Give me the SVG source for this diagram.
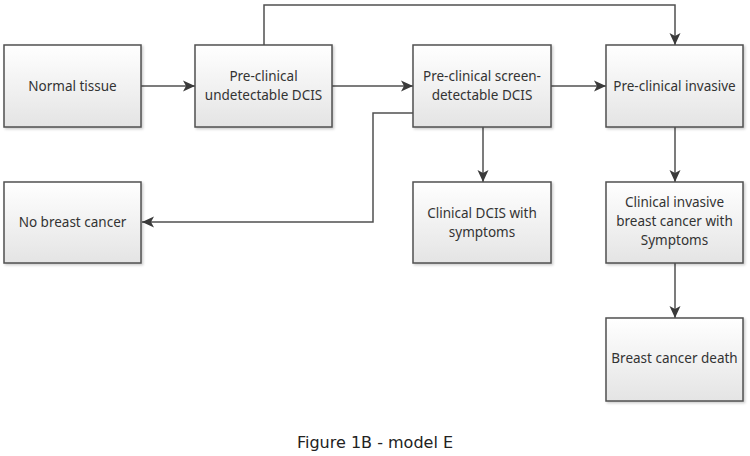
<svg xmlns="http://www.w3.org/2000/svg" width="750" height="456" viewBox="0 0 750 456">
<defs>
<linearGradient id="g" x1="0" y1="0" x2="0" y2="1">
<stop offset="0" stop-color="#ffffff"/>
<stop offset="1" stop-color="#e4e4e4"/>
</linearGradient>
<marker id="a" markerWidth="14" markerHeight="14" refX="12" refY="7" orient="auto" markerUnits="userSpaceOnUse">
<path d="M0,1.5 L12,7 L0,12.5 L3,7 Z" fill="#3a3a3a"/>
</marker>
<filter id="s" x="-10%" y="-10%" width="130%" height="130%">
<feDropShadow dx="1.5" dy="1.5" stdDeviation="1" flood-color="#000" flood-opacity="0.2"/>
</filter>
</defs>
<style>
rect.box{fill:url(#g);stroke:#505050;stroke-width:1.5;filter:url(#s)}
text.t{font-family:"Noto Sans","Open Sans",sans-serif;font-size:13.5px;fill:#333;text-anchor:middle}
.c{fill:none;stroke:#505050;stroke-width:1.5}
text.cap{font-family:"DejaVu Sans",Verdana,sans-serif;font-size:16px;fill:#222;text-anchor:middle}
</style>
<rect width="750" height="456" fill="#fff"/>
<g id="connectors">
<path class="c" d="M141,86 H195" marker-end="url(#a)"/>
<path class="c" d="M332,86 H413" marker-end="url(#a)"/>
<path class="c" d="M551,86 H606" marker-end="url(#a)"/>
<path class="c" d="M264,45 V5 H675 V45" marker-end="url(#a)"/>
<path class="c" d="M413,113 H373 V222 H142" marker-end="url(#a)"/>
<path class="c" d="M483,127 V182" marker-end="url(#a)"/>
<path class="c" d="M675,127 V182" marker-end="url(#a)"/>
<path class="c" d="M675,263 V318" marker-end="url(#a)"/>
</g>
<g id="normal-tissue">
<rect class="box" x="4" y="45" width="137" height="82"/>
<text class="t" x="72.5" y="91">Normal tissue</text>
</g>
<g id="undetectable-dcis">
<rect class="box" x="195" y="45" width="137" height="82"/>
<text class="t" x="263.5" y="81">Pre-clinical</text>
<text class="t" x="263.5" y="100">undetectable DCIS</text>
</g>
<g id="screen-detectable-dcis">
<rect class="box" x="413" y="45" width="138" height="82"/>
<text class="t" x="482" y="81">Pre-clinical screen-</text>
<text class="t" x="482" y="100">detectable DCIS</text>
</g>
<g id="preclinical-invasive">
<rect class="box" x="606" y="45" width="137" height="82"/>
<text class="t" x="674.5" y="91">Pre-clinical invasive</text>
</g>
<g id="no-breast-cancer">
<rect class="box" x="4" y="182" width="137" height="81"/>
<text class="t" x="72.5" y="227">No breast cancer</text>
</g>
<g id="clinical-dcis">
<rect class="box" x="413" y="182" width="138" height="81"/>
<text class="t" x="482" y="218">Clinical DCIS with</text>
<text class="t" x="482" y="237">symptoms</text>
</g>
<g id="clinical-invasive">
<rect class="box" x="606" y="182" width="137" height="81"/>
<text class="t" x="674.5" y="207">Clinical invasive</text>
<text class="t" x="674.5" y="226">breast cancer with</text>
<text class="t" x="674.5" y="245">Symptoms</text>
</g>
<g id="breast-cancer-death">
<rect class="box" x="606" y="318" width="137" height="83"/>
<text class="t" x="674.5" y="363">Breast cancer death</text>
</g>
<text class="cap" x="375" y="448">Figure 1B - model E</text>
</svg>
